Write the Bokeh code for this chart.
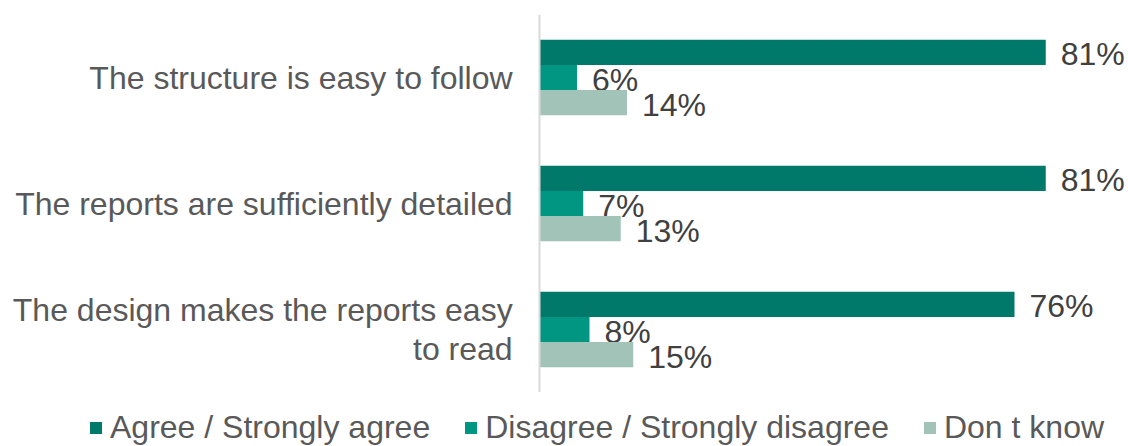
from bokeh.plotting import figure
from bokeh.layouts import column
from bokeh.models import ColumnDataSource, Range1d, FactorRange, Span, Legend, LegendItem
from bokeh.transform import dodge
from bokeh.core.properties import value
from bokeh.embed import file_html
from bokeh.resources import INLINE

categories = [
    "The structure is easy to follow",
    "The reports are sufficiently detailed",
    "The design makes the reports easy\nto read",
]
series_names = ["Agree / Strongly agree", "Disagree / Strongly disagree", "Don t know"]
agree = [81, 81, 76]
disagree = [6, 7, 8]
dont_know = [14, 13, 15]

colors = ["#00796A", "#009682", "#A2C4B8"]
FONT = "Liberation Sans"

src = ColumnDataSource(dict(
    cat=categories,
    agree=agree, disagree=disagree, dont_know=dont_know,
    agree_lbl=[f"{v}%" for v in agree],
    disagree_lbl=[f"{v}%" for v in disagree],
    dont_know_lbl=[f"{v}%" for v in dont_know],
    lbl_x=[-4.3] * len(categories),
))

p = figure(width=1128, height=392, output_backend="svg", toolbar_location=None,
           x_range=Range1d(-86.24, 94.24),
           y_range=FactorRange(factors=categories[::-1]),
           min_border_left=0, min_border_right=0, min_border_top=14, min_border_bottom=0)
p.xaxis.visible = False
p.yaxis.visible = False
p.xgrid.visible = False
p.ygrid.visible = False
p.outline_line_color = None
p.y_range.range_padding = 0

p.add_layout(Span(location=0, dimension="height", line_color="#D9D9D9", line_width=2))

offsets = [0.2, 0.0, -0.2]
fields = ["agree", "disagree", "dont_know"]
for f, off, c in zip(fields, offsets, colors):
    p.hbar(y=dodge("cat", off, range=p.y_range), left=0, right=f, height=0.2,
           fill_color=c, line_color=None, source=src)
    p.text(x=f, y=dodge("cat", off, range=p.y_range), text=f + "_lbl", source=src,
           x_offset=15, y_offset=2, text_baseline="middle", text_align="left",
           text_font=value(FONT), text_font_size="32px", text_color="#404040")

p.text(x="lbl_x", y="cat", text="cat", source=src, text_align="right",
       text_baseline="middle", text_font=value(FONT), text_font_size="32px",
       text_color="#595959", text_line_height=1.1)

# legend strip (zero-size proxy glyphs carry the legend swatches)
lg = figure(width=1128, height=54, output_backend="svg", toolbar_location=None,
            x_range=Range1d(0, 1), y_range=Range1d(0, 1),
            min_border_left=0, min_border_right=0, min_border_top=0, min_border_bottom=0)
lg.xaxis.visible = False
lg.yaxis.visible = False
lg.xgrid.visible = False
lg.ygrid.visible = False
lg.outline_line_color = None
proxy = ColumnDataSource(dict(y=[0], left=[0], right=[0]))
items = []
for n, c in zip(series_names, colors):
    r = lg.hbar(y="y", left="left", right="right", height=0, fill_color=c,
                line_color=None, source=proxy)
    items.append(LegendItem(label=n, renderers=[r]))
legend = Legend(items=items, orientation="horizontal", location=(88, 0),
                glyph_width=15, glyph_height=15, label_standoff=7, spacing=33,
                padding=0, margin=0, border_line_color=None, background_fill_alpha=0,
                label_text_font=FONT, label_text_font_size="32px", label_text_color="#595959")
lg.add_layout(legend)

layout = column(p, lg, spacing=0)
open("out.html", "w").write(file_html(layout, INLINE))
